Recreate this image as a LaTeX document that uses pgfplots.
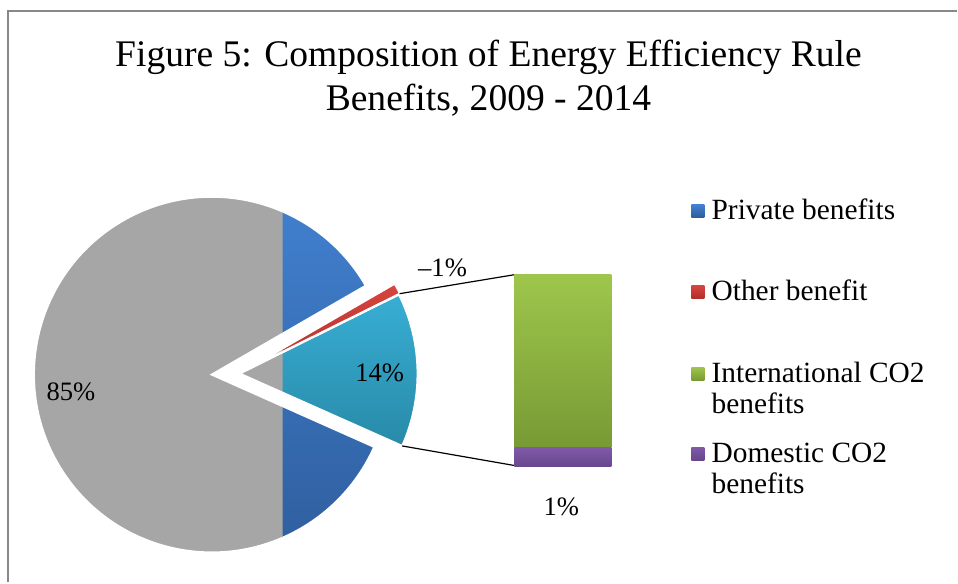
\documentclass[border=0pt]{standalone}
\usepackage{pgfplots}
\pgfplotsset{compat=1.18}
\usepackage{fontspec}
\setmainfont{Liberation Serif}

\definecolor{privT}{RGB}{66,130,210}
\definecolor{privB}{RGB}{46,92,155}
\definecolor{cyT}{RGB}{56,174,212}
\definecolor{cyB}{RGB}{40,138,168}
\definecolor{redT}{RGB}{214,70,64}
\definecolor{redB}{RGB}{180,46,42}
\definecolor{grT}{RGB}{158,198,76}
\definecolor{grB}{RGB}{120,154,52}
\definecolor{puT}{RGB}{128,90,168}
\definecolor{puB}{RGB}{104,70,142}
\definecolor{pgray}{RGB}{166,166,166}
\definecolor{frame}{RGB}{136,136,136}

% pie values (percent)
\def\vPriv{85}
\def\vOther{1}
\def\vCO{14}
% bar-of-pie values (percent)
\def\vIntl{12.6}
\def\vDom{1.4}

\pgfmathsetmacro\aStart{-24}
\pgfmathsetmacro\aCO{\aStart+3.6*\vCO}
\pgfmathsetmacro\aOth{\aCO+3.6*\vOther}
\pgfmathsetmacro\aPriv{\aOth+3.6*\vPriv}

\newcommand{\pieslice}[5]{%
  \path[#1] (axis cs:#2,#3) -- ++(#4:89pt) arc[start angle=#4, end angle=#5, radius=89pt] -- cycle;}

\begin{document}
\begin{tikzpicture}
\begin{axis}[
  x=0.5pt, y=0.5pt,
  xmin=0, xmax=958, ymin=0, ymax=583,
  hide axis, clip=false,
]
% frame
\addplot[frame, line width=1pt, mark=none] coordinates {(8.5,0) (8.5,572) (958,572)};

% pie slices (coloured)
\pieslice{shade, top color=privT, bottom color=privB, draw=white, line width=1pt}{212}{208}{\aOth}{\aPriv}
\pieslice{shade, top color=cyT, bottom color=cyB, draw=white, line width=1pt}{240}{209}{\aStart}{\aCO}
\pieslice{shade, top color=redT, bottom color=redB, draw=white, line width=1pt}{241}{210}{\aCO}{\aOth}

% grey left half
\begin{scope}
\clip (axis cs:0,0) rectangle (axis cs:283,583);
\pieslice{fill=pgray, draw=white, line width=1pt}{212}{208}{\aOth}{\aPriv}
\pieslice{fill=pgray, draw=white, line width=1pt}{240}{209}{\aStart}{\aCO}
\pieslice{fill=pgray, draw=white, line width=1pt}{241}{210}{\aCO}{\aOth}
\end{scope}

% connector lines
\addplot[black, line width=0.6pt, mark=none] coordinates {(400,289) (515,308)};
\addplot[black, line width=0.6pt, mark=none] coordinates {(402.6,136.6) (515,117)};

% title
\node[anchor=base, font=\fontsize{18.8}{22}\selectfont] at (axis cs:489,516.3) {Figure 5: Composition of Energy Efficiency Rule};
\node[anchor=base, font=\fontsize{18.8}{22}\selectfont] at (axis cs:489,472.5) {Benefits, 2009 - 2014};

% data labels
\node[font=\fontsize{13.3}{15}\selectfont] at (axis cs:71,191) {85\%};
\node[font=\fontsize{13.3}{15}\selectfont] at (axis cs:380,210) {14\%};
\node[font=\fontsize{13.3}{15}\selectfont] at (axis cs:443,315) {–1\%};
\node[font=\fontsize{13.3}{15}\selectfont] at (axis cs:568,223) {13\%};
\node[font=\fontsize{13.3}{15}\selectfont] at (axis cs:562,76) {1\%};

% legend
\shade[top color=privT, bottom color=privB] (axis cs:692,365.5) rectangle (axis cs:705,378.5);
\shade[top color=redT, bottom color=redB] (axis cs:692,284.5) rectangle (axis cs:705,297.5);
\shade[top color=grT, bottom color=grB] (axis cs:692,202.5) rectangle (axis cs:705,215.5);
\shade[top color=puT, bottom color=puB] (axis cs:692,122.5) rectangle (axis cs:705,135.5);
\node[anchor=base west, inner sep=0pt, font=\fontsize{14.7}{17}\selectfont] at (axis cs:712,363) {Private benefits};
\node[anchor=base west, inner sep=0pt, font=\fontsize{14.7}{17}\selectfont] at (axis cs:712,282) {Other benefit};
\node[anchor=base west, inner sep=0pt, font=\fontsize{14.7}{17}\selectfont] at (axis cs:712,200) {International CO2};
\node[anchor=base west, inner sep=0pt, font=\fontsize{14.7}{17}\selectfont] at (axis cs:712,169) {benefits};
\node[anchor=base west, inner sep=0pt, font=\fontsize{14.7}{17}\selectfont] at (axis cs:712,120) {Domestic CO2};
\node[anchor=base west, inner sep=0pt, font=\fontsize{14.7}{17}\selectfont] at (axis cs:712,89) {benefits};

\path (axis cs:0,0) rectangle (axis cs:958,583);
\end{axis}

% bar of pie
\begin{axis}[
  at={(257.5pt,58pt)}, anchor=south west,
  width=48.5pt, height=96pt, scale only axis,
  xmin=-0.5, xmax=0.5, ymin=0, ymax=14,
  ybar stacked, bar width=48.5pt,
  hide axis, clip=false,
]
\addplot[shade, top color=puT, bottom color=puB, draw=none] coordinates {(0,\vDom)};
\addplot[shade, top color=grT, bottom color=grB, draw=none] coordinates {(0,\vIntl)};
\end{axis}
\end{tikzpicture}
\end{document}
